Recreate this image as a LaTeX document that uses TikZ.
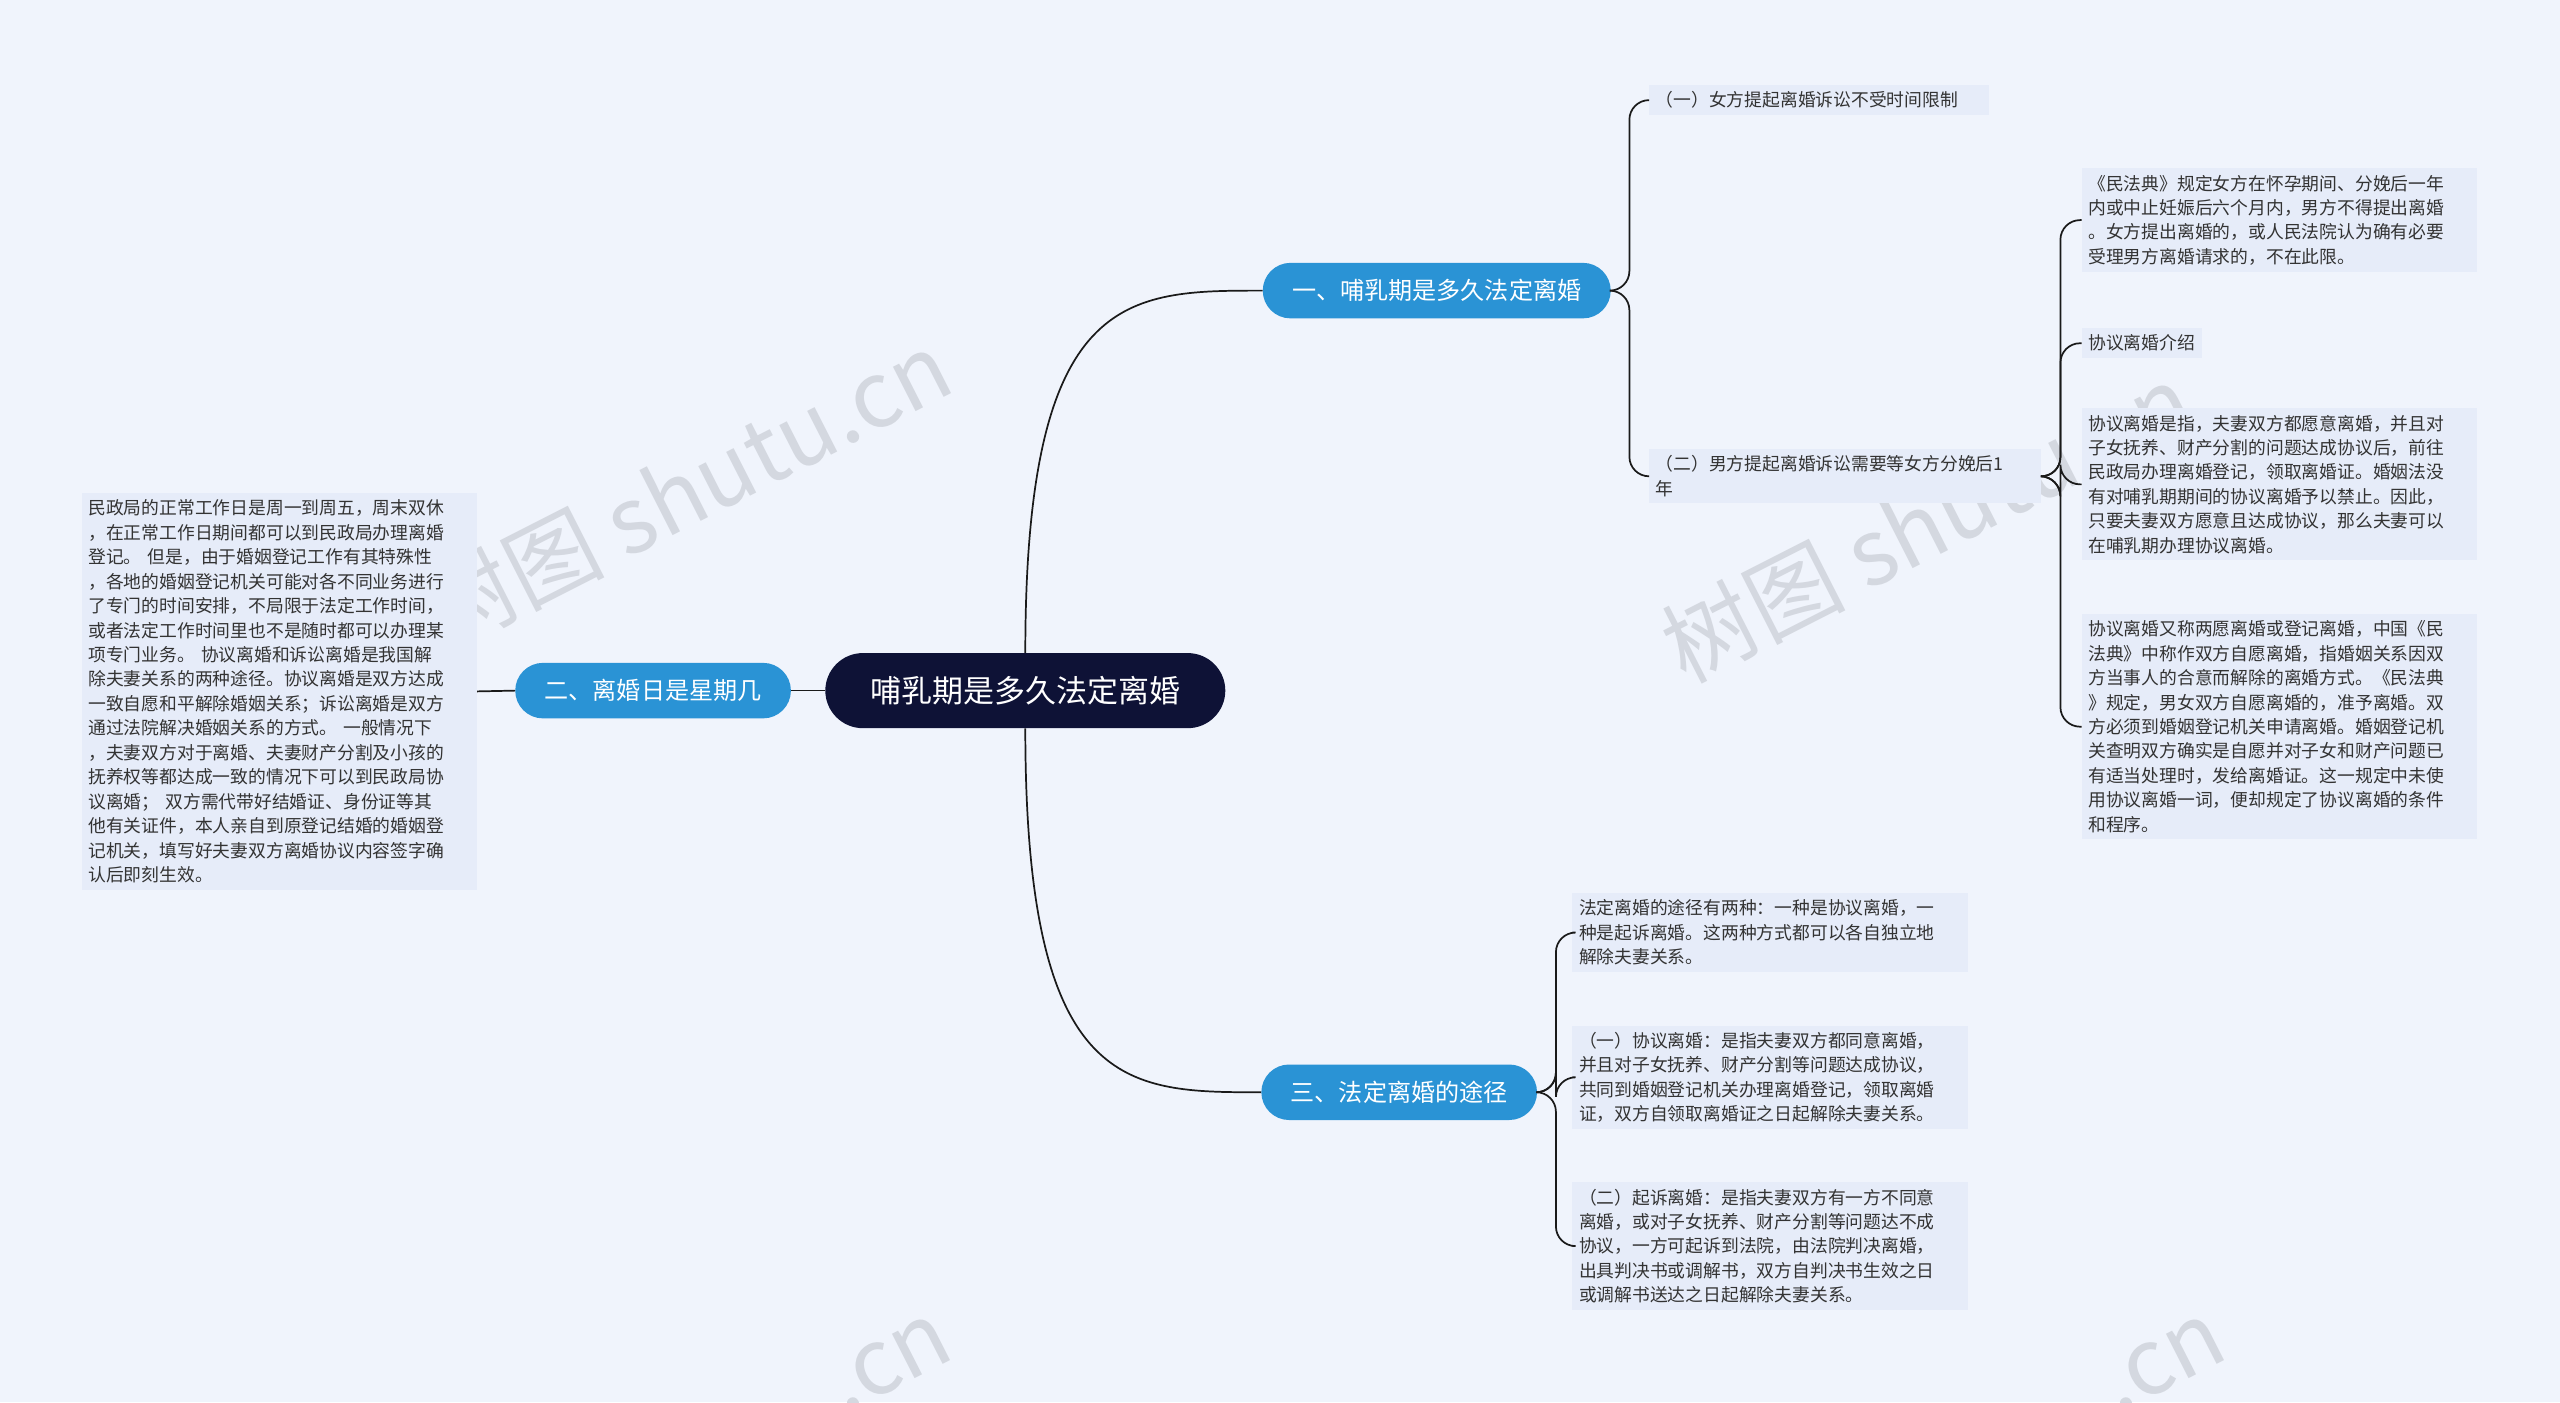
\documentclass[tikz,border=0pt]{standalone}
\usepackage{fontspec}
\setmainfont{Noto Sans CJK SC}
\begin{document}
\begin{tikzpicture}[x=0.05cm,y=-0.05cm,
  leaf/.style={anchor=north west,fill=leafc,inner sep=0.2cm,align=left,font=\fontsize{15.5}{21.3}\selectfont,text=txt},
  br/.style={fill=brc,text=white,rounded corners=0.85cm,minimum height=1.7cm,inner xsep=0.9cm,font=\fontsize{21}{25}\selectfont},
  ln/.style={draw=lnc,line width=1.5pt},
  wm/.style={text=wmc,rotate=27,font=\fontsize{80}{90}\selectfont}]
\definecolor{bg}{HTML}{F0F4FC}
\definecolor{leafc}{HTML}{E6ECF9}
\definecolor{brc}{HTML}{2A93D5}
\definecolor{rootc}{HTML}{0E1236}
\definecolor{lnc}{HTML}{1A1A1A}
\definecolor{txt}{HTML}{333333}
\definecolor{wmc}{HTML}{D4D8E0}
\fill[bg] (0,0) rectangle (1568,859);
\useasboundingbox (0,0) rectangle (1568,859);
\node[wm] (w1) at (420,300) {树图 shutu.cn};
\node[wm] (w2) at (1180,320) {树图 shutu.cn};
\node[wm] (w3) at (545,835) {.cn};
\node[wm] (w4) at (1325,835) {.cn};
% nodes
\node[fill=rootc,text=white,rounded corners=1.15cm,minimum width=12.25cm,minimum height=2.3cm,font=\fontsize{27}{32}\selectfont] (root) at (628,423) {哺乳期是多久法定离婚};
\node[br] (b1) at (880,178) {一、哺乳期是多久法定离婚};
\node[br] (b2) at (400,423) {二、离婚日是星期几};
\node[br] (b3) at (857,669) {三、法定离婚的途径};
\node[leaf,text width=10.0cm] (c11) at (1010,52) {（一）女方提起离婚诉讼不受时间限制};
\node[leaf,text width=11.6cm] (c12) at (1010,275) {（二）男方提起离婚诉讼需要等女方分娩后1\\年};
\node[leaf,text width=11.7cm] (d1) at (1275,103) {《民法典》规定女方在怀孕期间、分娩后一年\\内或中止妊娠后六个月内，男方不得提出离婚\\。女方提出离婚的，或人民法院认为确有必要\\受理男方离婚请求的，不在此限。};
\node[leaf] (d2) at (1275,201) {协议离婚介绍};
\node[leaf,text width=11.7cm] (d3) at (1275,250) {协议离婚是指，夫妻双方都愿意离婚，并且对\\子女抚养、财产分割的问题达成协议后，前往\\民政局办理离婚登记，领取离婚证。婚姻法没\\有对哺乳期期间的协议离婚予以禁止。因此，\\只要夫妻双方愿意且达成协议，那么夫妻可以\\在哺乳期办理协议离婚。};
\node[leaf,text width=11.7cm] (d4) at (1275,376) {协议离婚又称两愿离婚或登记离婚，中国《民\\法典》中称作双方自愿离婚，指婚姻关系因双\\方当事人的合意而解除的离婚方式。《民法典\\》规定，男女双方自愿离婚的，准予离婚。双\\方必须到婚姻登记机关申请离婚。婚姻登记机\\关查明双方确实是自愿并对子女和财产问题已\\有适当处理时，发给离婚证。这一规定中未使\\用协议离婚一词，便却规定了协议离婚的条件\\和程序。};
\node[leaf,text width=11.7cm] (a1) at (50,302) {民政局的正常工作日是周一到周五，周末双休\\，在正常工作日期间都可以到民政局办理离婚\\登记。 但是，由于婚姻登记工作有其特殊性\\，各地的婚姻登记机关可能对各不同业务进行\\了专门的时间安排，不局限于法定工作时间，\\或者法定工作时间里也不是随时都可以办理某\\项专门业务。 协议离婚和诉讼离婚是我国解\\除夫妻关系的两种途径。协议离婚是双方达成\\一致自愿和平解除婚姻关系；诉讼离婚是双方\\通过法院解决婚姻关系的方式。 一般情况下\\，夫妻双方对于离婚、夫妻财产分割及小孩的\\抚养权等都达成一致的情况下可以到民政局协\\议离婚； 双方需代带好结婚证、身份证等其\\他有关证件，本人亲自到原登记结婚的婚姻登\\记机关，填写好夫妻双方离婚协议内容签字确\\认后即刻生效。};
\node[leaf,text width=11.7cm] (e1) at (963,547) {法定离婚的途径有两种：一种是协议离婚，一\\种是起诉离婚。这两种方式都可以各自独立地\\解除夫妻关系。};
\node[leaf,text width=11.7cm] (e2) at (963,628) {（一）协议离婚：是指夫妻双方都同意离婚，\\并且对子女抚养、财产分割等问题达成协议，\\共同到婚姻登记机关办理离婚登记，领取离婚\\证，双方自领取离婚证之日起解除夫妻关系。};
\node[leaf,text width=11.7cm] (e3) at (963,724) {（二）起诉离婚：是指夫妻双方有一方不同意\\离婚，或对子女抚养、财产分割等问题达不成\\协议，一方可起诉到法院，由法院判决离婚，\\出具判决书或调解书，双方自判决书生效之日\\或调解书送达之日起解除夫妻关系。};
% connectors
\draw[ln] (root.north) .. controls (628,178) and (690,178) .. (b1.west);
\draw[ln] (root.south) .. controls (628,669) and (690,669) .. (b3.west);
\draw[ln] (root.west) -- (b2.east);
\coordinate (s1) at (998,178);
\coordinate (s12) at (1262,292);
\coordinate (s3) at (953,669);
\foreach \c in {c11,c12}{\draw[ln,rounded corners=0.6cm] (b1.east) -- (s1) |- (\c.west);}
\foreach \c in {d1,d2,d3,d4}{\draw[ln,rounded corners=0.6cm] (c12.east) -- (s12) |- (\c.west);}
\foreach \c in {e1,e2,e3}{\draw[ln,rounded corners=0.6cm] (b3.east) -- (s3) |- (\c.west);}
\draw[ln] (b2.west) -- (a1.east);
\end{tikzpicture}
\end{document}
